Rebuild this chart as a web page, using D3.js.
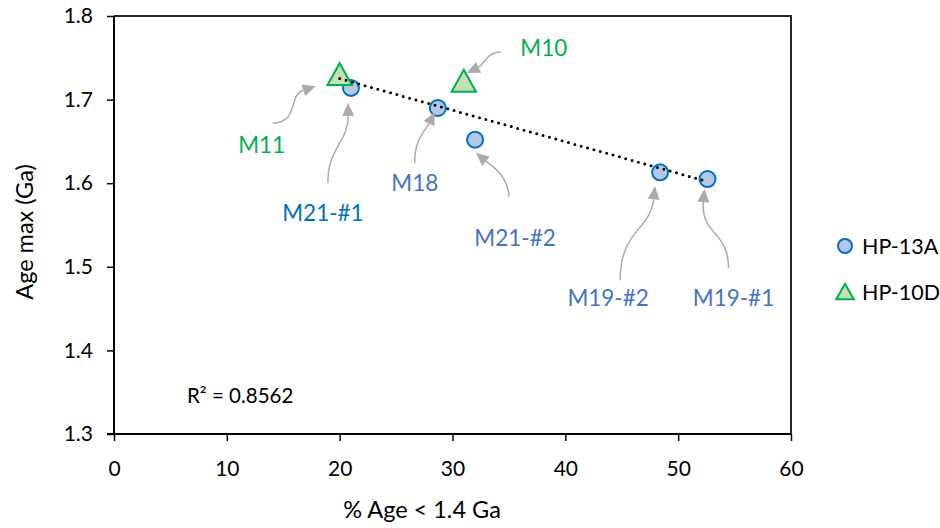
<!DOCTYPE html>
<html>
<head>
<meta charset="utf-8">
<script src="https://cdn.jsdelivr.net/npm/d3@7"></script>
<style>
  html, body { margin: 0; padding: 0; background: #fff; }
  svg { display: block; }
  text { font-family: Lato, "Open Sans", sans-serif; }
</style>
</head>
<body>
<svg id="chart" width="940" height="528"></svg>
<script>
// ---- data ----
const hp13aNames = ["M21-#1", "M18", "M21-#2", "M19-#2", "M19-#1"];
const hp13aX = [21.0, 28.7, 32.0, 48.4, 52.6];
const hp13aY = [1.714, 1.690, 1.652, 1.613, 1.605];

const hp10dNames = ["M11", "M10"];
const hp10dX = [20.0, 31.0];
const hp10dY = [1.728, 1.720];

const xTicks = [0, 10, 20, 30, 40, 50, 60];
const yTicks = [1.3, 1.4, 1.5, 1.6, 1.7, 1.8];
const seriesNames = ["HP-13A", "HP-10D"];
const r2Label = "R² = 0.8562";
const xTitle = "% Age < 1.4 Ga";
const yTitle = "Age max (Ga)";

// ---- layout ----
const svg = d3.select("#chart");
const plot = { left: 114, right: 791, top: 16, bottom: 434 };
const x = d3.scaleLinear().domain([0, 60]).range([plot.left, plot.right]);
const y = d3.scaleLinear().domain([1.3, 1.8]).range([plot.bottom, plot.top]);

const COL_BLUE_DARK = "#0070C0";
const COL_BLUE = "#4472C4";
const COL_GREEN = "#00B050";
const COL_ARROW = "#ABABAB";

// plot frame (top/right)
svg.append("path")
  .attr("d", `M${plot.left},${plot.top}H${plot.right}V${plot.bottom}`)
  .attr("fill", "none").attr("stroke", "#262626").attr("stroke-width", 2);

// axes
const tickFont = 21;
const yAxis = d3.axisLeft(y).tickValues(yTicks).tickFormat(d3.format(".1f")).tickSize(7).tickPadding(14);
const xAxis = d3.axisBottom(x).tickValues(xTicks).tickFormat(d3.format("d")).tickSize(7).tickPadding(20);

const gy = svg.append("g").attr("transform", `translate(${plot.left},0)`).call(yAxis);
const gx = svg.append("g").attr("transform", `translate(0,${plot.bottom})`).call(xAxis);
[gx, gy].forEach(g => {
  g.select(".domain").attr("stroke", "#000").attr("stroke-width", 2);
  g.selectAll(".tick line").attr("stroke", "#000").attr("stroke-width", 1.5);
  g.selectAll(".tick text").attr("fill", "#000").style("font-size", tickFont + "px")
    .style("font-family", "Lato, 'Open Sans', sans-serif");
});
gy.select(".domain").attr("d", `M0,${plot.top}V${plot.bottom}`);
gx.select(".domain").attr("d", `M${plot.left - 7},0H${plot.right}`);

// axis titles
svg.append("text").attr("x", 422).attr("y", 518).attr("text-anchor", "middle")
  .style("font-size", "23.5px").attr("fill", "#000").text(xTitle);
svg.append("text").attr("transform", "translate(33,232) rotate(-90)").attr("text-anchor", "middle")
  .style("font-size", "23.5px").attr("fill", "#000").text(yTitle);

// trendline (least squares over all points)
const allX = hp13aX.concat(hp10dX);
const allY = hp13aY.concat(hp10dY);
const mx = d3.mean(allX), my = d3.mean(allY);
const slope = d3.sum(allX.map((v, i) => (v - mx) * (allY[i] - my))) / d3.sum(allX.map(v => (v - mx) ** 2));
const icpt = my - slope * mx;
const [x0, x1] = d3.extent(allX);

// markers
const triPath = (s) => `M0,${-s * 0.62}L${s * 0.58},${s * 0.42}L${-s * 0.58},${s * 0.42}Z`;

const gPts = svg.append("g");
hp13aX.forEach((v, i) => {
  gPts.append("circle").attr("cx", x(v)).attr("cy", y(hp13aY[i])).attr("r", 8)
    .attr("fill", "#B4C7E7").attr("stroke", COL_BLUE_DARK).attr("stroke-width", 2);
});
hp10dX.forEach((v, i) => {
  gPts.append("path").attr("d", triPath(21))
    .attr("transform", `translate(${x(v)},${y(hp10dY[i])})`)
    .attr("fill", "#C5E0B4").attr("stroke", COL_GREEN).attr("stroke-width", 2);
});
// trendline drawn over markers
svg.append("line")
  .attr("x1", x(x0)).attr("y1", y(icpt + slope * x0))
  .attr("x2", x(x1)).attr("y2", y(icpt + slope * x1))
  .attr("stroke", "#000").attr("stroke-width", 3).attr("stroke-linecap", "round")
  .attr("stroke-dasharray", "0 6.6");

// annotations: offsets relative to the point (label centre, tail, control1, control2, head tip)
const annotations = [
  { name: "M11",    px: hp10dX[0], py: hp10dY[0], color: COL_GREEN,     label: [-78, 69],  tail: [-67, 47], c1: [-40, 46], c2: [-52, 19], head: [-24, 10] },
  { name: "M10",    px: hp10dX[1], py: hp10dY[1], color: COL_GREEN,     label: [80, -35],  tail: [37, -31], c1: [23, -31], c2: [20, -18], head: [3, -10] },
  { name: "M21-#1", px: hp13aX[0], py: hp13aY[0], color: COL_BLUE_DARK, label: [-28, 125], tail: [-23, 95], c1: [-24, 62], c2: [-2, 52],  head: [-3, 15] },
  { name: "M18",    px: hp13aX[1], py: hp13aY[1], color: COL_BLUE,      label: [-23, 75],  tail: [-23, 55], c1: [-24, 32], c2: [-12, 22], head: [-3, 4] },
  { name: "M21-#2", px: hp13aX[2], py: hp13aY[2], color: COL_BLUE,      label: [40, 98],   tail: [34, 57],  c1: [33, 35],  c2: [15, 25],  head: [1, 13] },
  { name: "M19-#2", px: hp13aX[3], py: hp13aY[3], color: COL_BLUE,      label: [-52, 126], tail: [-40, 108], c1: [-40, 58], c2: [-10, 58], head: [-5, 14] },
  { name: "M19-#1", px: hp13aX[4], py: hp13aY[4], color: COL_BLUE,      label: [26, 119],  tail: [21, 89],  c1: [21, 51],  c2: [-7, 56],  head: [-3, 10] }
];

const gAnn = svg.append("g");
annotations.forEach(a => {
  const cx = x(a.px), cy = y(a.py);
  const P = o => [cx + o[0], cy + o[1]];
  const t = P(a.tail), c1 = P(a.c1), c2 = P(a.c2), h = P(a.head);
  const dx = h[0] - c2[0], dy = h[1] - c2[1];
  const len = Math.hypot(dx, dy);
  const ux = dx / len, uy = dy / len;
  const L = 13, W = 6;
  const base = [h[0] - ux * L, h[1] - uy * L];
  gAnn.append("path")
    .attr("d", `M${t}C${c1} ${c2} ${base}`)
    .attr("fill", "none").attr("stroke", COL_ARROW).attr("stroke-width", 1.5);
  gAnn.append("path")
    .attr("d", `M${h}L${base[0] - uy * W},${base[1] + ux * W}L${base[0] + uy * W},${base[1] - ux * W}Z`)
    .attr("fill", COL_ARROW);
  const lp = P(a.label);
  gAnn.append("text").attr("x", lp[0]).attr("y", lp[1]).attr("dy", "0.35em")
    .attr("text-anchor", "middle").style("font-size", "22.5px").attr("fill", a.color).text(a.name);
});

// R² label
svg.append("text").attr("x", 187).attr("y", 403).style("font-size", "20.5px").attr("fill", "#000").text(r2Label);

// legend
const lg = svg.append("g");
lg.append("circle").attr("cx", 845).attr("cy", 246).attr("r", 7)
  .attr("fill", "#B4C7E7").attr("stroke", COL_BLUE_DARK).attr("stroke-width", 2);
lg.append("path").attr("d", triPath(15)).attr("transform", "translate(845,293)")
  .attr("fill", "#C5E0B4").attr("stroke", COL_GREEN).attr("stroke-width", 2);
lg.append("text").attr("x", 862).attr("y", 246).attr("dy", "0.35em").style("font-size", "21.5px").attr("fill", "#000").text(seriesNames[0]);
lg.append("text").attr("x", 862).attr("y", 292).attr("dy", "0.35em").style("font-size", "21.5px").attr("fill", "#000").text(seriesNames[1]);
</script>
</body>
</html>
